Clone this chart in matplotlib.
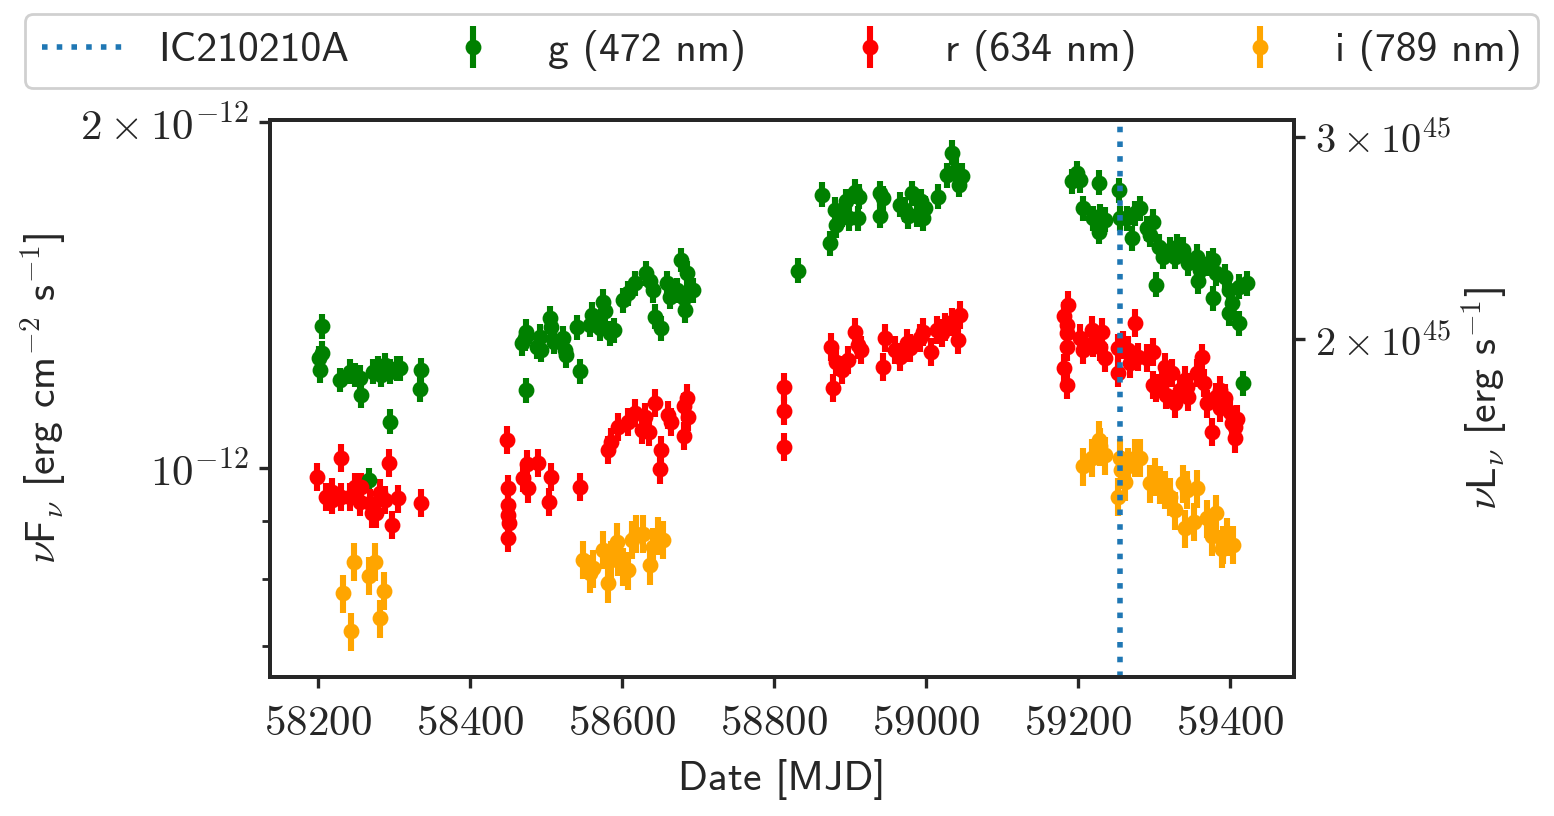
import numpy as np
import matplotlib
matplotlib.use("Agg")
import matplotlib.pyplot as plt
from matplotlib.ticker import FixedLocator, FixedFormatter, NullFormatter, NullLocator

plt.rcParams['font.family'] = ['cmss10', 'DejaVu Sans']
plt.rcParams['mathtext.fontset'] = 'cm'
plt.rcParams['axes.unicode_minus'] = False
dark = "#262626"
plt.rcParams['text.color'] = dark
plt.rcParams['axes.labelcolor'] = dark
plt.rcParams['xtick.color'] = dark
plt.rcParams['ytick.color'] = dark

# data: MJD and nuF_nu in units of 1e-12 erg/cm2/s
g_mjd = [58205, 58206, 58202, 58203, 58229, 58242, 58249, 58255, 58257, 58273,
         58279, 58288, 58295, 58304, 58308, 58283, 58295, 58336, 58334, 58267,
         58474, 58468, 58474, 58472, 58488, 58492, 58494, 58505, 58507, 58510,
         58523, 58525, 58527, 58541, 58545, 58558, 58560, 58571, 58575, 58578,
         58584, 58589, 58602, 58608, 58617, 58632, 58637, 58641, 58643, 58652,
         58659, 58663, 58672, 58678, 58685, 58689, 58683, 58694, 58681,
         58832, 58874, 58863, 58880, 58882, 58889, 58895, 58899, 58906, 58910,
         58912, 58939, 58939, 58943, 58966, 58972, 58976, 58981, 58988, 58994,
         58999, 58996, 59016, 59027, 59034, 59040, 59047, 59043,
         59192, 59199, 59202, 59207, 59228, 59220, 59229, 59227, 59236, 59254,
         59255, 59264, 59271, 59275, 59282, 59295, 59299, 59306, 59312, 59303,
         59321, 59327, 59338, 59345, 59356, 59358, 59372, 59377, 59382, 59393,
         59398, 59402, 59398, 59412, 59411, 59422, 59417, 59377, 59360, 59330,
         59290]
g_flux = [1.329, 1.258, 1.246, 1.217, 1.193, 1.213, 1.205, 1.198, 1.157, 1.213,
          1.221, 1.229, 1.213, 1.221, 1.221, 1.205, 1.097, 1.217, 1.171, 0.976,
          1.169, 1.284, 1.314, 1.297, 1.275, 1.301, 1.267, 1.349, 1.327, 1.288,
          1.297, 1.267, 1.254, 1.326, 1.214, 1.332, 1.359, 1.323, 1.395, 1.368,
          1.310, 1.318, 1.400, 1.419, 1.448, 1.477, 1.453, 1.428, 1.354, 1.323,
          1.448, 1.409, 1.428, 1.517, 1.477, 1.428, 1.372, 1.428, 1.405,
          1.484, 1.569, 1.728, 1.677, 1.627, 1.660, 1.705, 1.649, 1.739, 1.649,
          1.722, 1.734, 1.657, 1.716, 1.694, 1.677, 1.655, 1.734, 1.660, 1.705,
          1.683, 1.649, 1.722, 1.798, 1.880, 1.816, 1.795, 1.763,
          1.775, 1.805, 1.779, 1.683, 1.771, 1.649, 1.655, 1.605, 1.644, 1.745,
          1.649, 1.649, 1.584, 1.665, 1.683, 1.595, 1.638, 1.558, 1.527, 1.443,
          1.548, 1.527, 1.548, 1.506, 1.527, 1.453, 1.506, 1.405, 1.477, 1.467,
          1.428, 1.391, 1.363, 1.336, 1.438, 1.448, 1.185, 1.517, 1.487, 1.558,
          1.616]

r_mjd = [58199, 58230, 58218, 58218, 58231, 58242, 58249, 58257, 58255, 58271,
         58277, 58282, 58288, 58293, 58297, 58305, 58336, 58211, 58268,
         58449, 58450, 58450, 58450, 58452, 58450, 58470, 58475, 58477, 58490,
         58507, 58504, 58545, 58582, 58586, 58595, 58608, 58617, 58630, 58635,
         58643, 58652, 58650, 58661, 58665, 58681, 58685, 58687, 58681, 58626,
         58813, 58813, 58813, 58875, 58878, 58882, 58889, 58898, 58906, 58911,
         58915, 58943, 58946, 58959, 58966, 58975, 58979, 58996, 59007, 59014,
         59025, 59034, 59045, 59042, 58992, 59021,
         59187, 59181, 59185, 59185, 59186, 59181, 59186, 59203, 59207, 59218,
         59220, 59231, 59229, 59235, 59275, 59253, 59253, 59259, 59266, 59268,
         59279, 59291, 59299, 59303, 59314, 59323, 59310, 59316, 59327, 59334,
         59341, 59345, 59356, 59363, 59365, 59369, 59376, 59382, 59393, 59400,
         59406, 59406, 59402, 59409, 59387, 59343, 59298, 59387]
r_flux = [0.983, 1.021, 0.954, 0.938, 0.944, 0.944, 0.963, 0.963, 0.935, 0.913,
          0.913, 0.951, 0.938, 1.011, 0.892, 0.941, 0.933, 0.944, 0.932,
          1.058, 0.960, 0.929, 0.910, 0.895, 0.869, 0.980, 1.008, 0.960, 1.011,
          0.983, 0.935, 0.963, 1.037, 1.054, 1.086, 1.097, 1.116, 1.108, 1.075,
          1.140, 1.037, 0.997, 1.112, 1.097, 1.131, 1.150, 1.108, 1.066, 1.079,
          1.177, 1.121, 1.043, 1.275, 1.173, 1.237, 1.217, 1.242, 1.314, 1.280,
          1.267, 1.225, 1.297, 1.267, 1.250, 1.284, 1.271, 1.314, 1.262, 1.318,
          1.327, 1.340, 1.359, 1.292, 1.297, 1.310,
          1.386, 1.356, 1.332, 1.310, 1.275, 1.221, 1.181, 1.297, 1.267, 1.318,
          1.284, 1.314, 1.275, 1.246, 1.338, 1.271, 1.209, 1.280, 1.267, 1.233,
          1.250, 1.246, 1.262, 1.173, 1.225, 1.209, 1.185, 1.157, 1.138, 1.169,
          1.193, 1.153, 1.209, 1.248, 1.185, 1.138, 1.075, 1.153, 1.150, 1.119,
          1.086, 1.061, 1.094, 1.104, 1.127, 1.177, 1.181, 1.169]

i_mjd = [58247, 58275, 58267, 58233, 58287, 58282, 58243,
         58549, 58558, 58562, 58575, 58582, 58586, 58593, 58595, 58602, 58608,
         58613, 58619, 58628, 58637, 58641, 58648, 58654,
         59206, 59218, 59227, 59229, 59236, 59255, 59253, 59257, 59262, 59266,
         59275, 59282, 59295, 59301, 59308, 59314, 59321, 59327, 59338, 59343,
         59341, 59352, 59356, 59369, 59382, 59376, 59391, 59396, 59404, 59389]
i_flux = [0.829, 0.829, 0.806, 0.778, 0.782, 0.740, 0.721,
          0.832, 0.810, 0.818, 0.849, 0.794, 0.832, 0.863, 0.837, 0.821, 0.815,
          0.866, 0.877, 0.877, 0.823, 0.854, 0.874, 0.866,
          1.003, 1.020, 1.058, 1.044, 1.026, 1.020, 0.944, 0.996, 0.973, 1.003,
          1.020, 1.020, 0.970, 0.983, 0.967, 0.957, 0.944, 0.919, 0.970, 0.957,
          0.886, 0.898, 0.960, 0.904, 0.913, 0.872, 0.857, 0.872, 0.857, 0.851]

# typical relative uncertainties per band
g_err = 0.025
r_err = 0.028
i_err = 0.038

neutrino_mjd = 59255
lum_factor = 1.546e57  # nuL_nu / nuF_nu

bands = [
    ("g (472 nm)", g_mjd, g_flux, g_err, "green"),
    ("r (634 nm)", r_mjd, r_flux, r_err, "red"),
    ("i (789 nm)", i_mjd, i_flux, i_err, "orange"),
]

fig = plt.figure(figsize=(7.77, 4.08), dpi=200)
ax = fig.add_axes([0.1737, 0.1703, 0.6590, 0.6826])

ax.axvline(neutrino_mjd, color="#1f77b4", ls=":", lw=2, label="IC210210A", zorder=5)
for name, t, f, e, c in bands:
    f = np.array(f) * 1e-12
    ax.errorbar(t, f, yerr=f * e, fmt="o", color=c, ms=4.7, elinewidth=2.2,
                capsize=0, label=name)

ax.set_yscale("log")
ax.set_xlim(58137, 59484)
ax.set_ylim(6.58e-13, 2.007e-12)

xt = [58200, 58400, 58600, 58800, 59000, 59200, 59400]
ax.xaxis.set_major_locator(FixedLocator(xt))
ax.xaxis.set_major_formatter(FixedFormatter(["$%d$" % v for v in xt]))
ax.yaxis.set_major_locator(FixedLocator([1e-12, 2e-12]))
ax.yaxis.set_major_formatter(FixedFormatter([r"$10^{-12}$", r"$2\times10^{-12}$"]))
ax.yaxis.set_minor_locator(FixedLocator([7e-13, 8e-13, 9e-13]))
ax.yaxis.set_minor_formatter(NullFormatter())

ax2 = ax.twinx()
ax2.set_yscale("log")
ax2.set_ylim(6.58e-13 * lum_factor, 2.007e-12 * lum_factor)
ax2.yaxis.set_major_locator(FixedLocator([2e45, 3e45]))
ax2.yaxis.set_major_formatter(FixedFormatter([r"$2\times10^{45}$", r"$3\times10^{45}$"]))
ax2.yaxis.set_minor_locator(NullLocator())

for a in (ax, ax2):
    for s in a.spines.values():
        s.set_color(dark)
        s.set_linewidth(1.4)
    a.tick_params(which="major", length=4, width=1.2, color=dark)
    a.tick_params(which="minor", length=3, width=1.0, color=dark)
ax.tick_params(which="major", labelsize=15.5)
ax.tick_params(axis="x", pad=6)
ax2.tick_params(which="major", labelsize=14.5)

ax.set_xlabel("Date [MJD]", fontsize=15, labelpad=6)
ax.set_ylabel(r"$\nu$F$_\nu$ [erg cm$^{-2}$ s$^{-1}$]", fontsize=15)
ax2.set_ylabel(r"$\nu$L$_\nu$ [erg s$^{-1}$]", fontsize=15, labelpad=3)

handles, labels = ax.get_legend_handles_labels()
fig.legend(handles, labels, loc="lower left", ncol=4, mode="expand",
           bbox_to_anchor=(0.016, 0.892, 0.974, 0.09), fontsize=15,
           frameon=True, fancybox=True, edgecolor="#d0d0d0", framealpha=1,
           handlelength=2.0, borderaxespad=0)

fig.savefig("out.png", dpi=200)
